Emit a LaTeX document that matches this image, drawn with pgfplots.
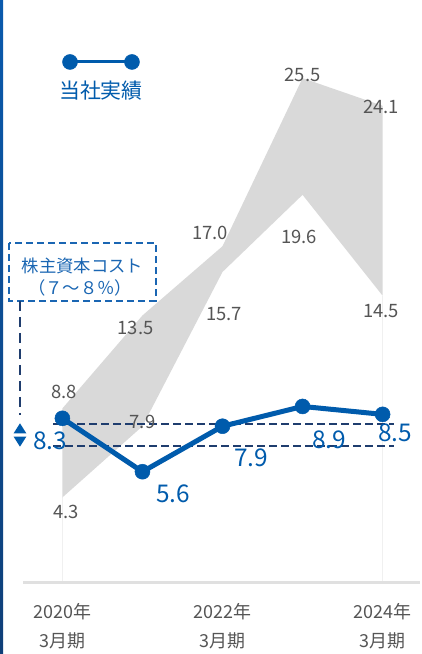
\documentclass[border=0pt]{standalone}
\usepackage{fontspec}
\setmainfont{Noto Sans CJK JP}
\usepackage{pgfplots}
\pgfplotsset{compat=1.18}
\definecolor{myblue}{HTML}{005BAC}
\definecolor{navy}{HTML}{1F3D6E}
\definecolor{bandgray}{HTML}{D9D9D9}
\definecolor{lblgray}{HTML}{555555}
\definecolor{boxblue}{HTML}{1A66B3}
\definecolor{basegray}{HTML}{E0E0E0}
\definecolor{faint}{HTML}{F0F0F0}
\definecolor{stripetop}{HTML}{0A5AAD}
\definecolor{stripebot}{HTML}{0F3F78}
\tikzset{
  glbl/.style={font=\fontsize{18.5}{20}\selectfont, text=lblgray, inner sep=0pt},
  blbl/.style={font=\fontsize{24.5}{26}\selectfont, text=myblue, inner sep=0pt},
  tlbl/.style={font=\fontsize{18}{20}\selectfont, text=lblgray, inner sep=0pt, anchor=base},
}

\begin{document}
\begin{tikzpicture}
\begin{axis}[
  scale only axis, width=420bp, height=654bp,
  xmin=-0.7795, xmax=4.4672, ymin=-3.615, ymax=29.449,
  axis lines=none, clip=false,
]
\fill[white] (rel axis cs:0,0) rectangle (rel axis cs:1,1);
\shade[top color=stripetop, bottom color=stripebot] (rel axis cs:0,0) rectangle (-0.742,29.449);

% faint verticals
\addplot[draw=faint, line width=1bp] coordinates {(0,0) (0,4.3)};
\addplot[draw=faint, line width=1bp] coordinates {(4,0) (4,14.5)};
% baseline
\addplot[draw=basegray, line width=3bp] coordinates {(-0.492,0) (4.4672,0)};

% range band
\addplot[fill=bandgray, draw=none] coordinates {(0,8.8) (1,13.5) (2,17.0) (3,25.5) (4,24.1) (4,14.5) (3,19.6) (2,15.7) (1,7.9) (0,4.3)} -- cycle;

% cost of equity dashed lines
\addplot[navy, line width=1.6bp, dash pattern=on 7.5bp off 4.5bp] coordinates {(-0.117,8.0) (4.142,8.0)};
\addplot[navy, line width=1.6bp, dash pattern=on 7.5bp off 4.5bp] coordinates {(-0.117,6.9) (4.142,6.9)};

% company results
\addplot[myblue, line width=5bp, mark=*, mark size=7.5bp, mark options={fill=myblue, draw=myblue, line width=0.5bp, solid}] coordinates {(0,8.3) (1,5.6) (2,7.9) (3,8.9) (4,8.5)};

% legend
\addplot[myblue, line width=3bp, mark=*, mark size=7.5bp, mark options={fill=myblue, draw=myblue, line width=0.5bp, solid}] coordinates {(0.095,26.315) (0.869,26.315)};
\node[font=\fontsize{21}{23}\selectfont, text=myblue, inner sep=0pt] at (0.482,24.85) {当社実績};

% box
\draw[boxblue, line width=2bp, dash pattern=on 7bp off 4bp] (-0.661,17.164) rectangle (1.163,14.232);
\node[font=\fontsize{17.4}{19}\selectfont, text=boxblue, inner sep=0pt] at (0.251,16.001) {株主資本コスト};
\node[font=\fontsize{17.4}{19}\selectfont, text=boxblue, inner sep=0pt] at (0.220,14.889) {（７～８％）};
\draw[navy, line width=2.2bp, dash pattern=on 10bp off 6bp] (-0.530,14.232) -- (-0.530,8.468);
\fill[myblue] (-0.530,8.049) -- (-0.609,7.543) -- (-0.451,7.543) -- cycle;
\fill[myblue] (-0.530,6.866) -- (-0.609,7.371) -- (-0.451,7.371) -- cycle;

% gray labels
\node[glbl] at (0.020,9.630) {8.8};
\node[glbl] at (0.913,12.892) {13.5};
\node[glbl] at (1.844,17.670) {17.0};
\node[glbl] at (2.999,25.657) {25.5};
\node[glbl] at (3.980,24.039) {24.1};
\node[glbl] at (0.045,3.564) {4.3};
\node[glbl] at (1.000,8.139) {7.9};
\node[glbl] at (2.019,13.574) {15.7};
\node[glbl] at (2.956,17.484) {19.6};
\node[glbl] at (3.980,13.726) {14.5};

% blue labels
\node[blbl] at (-0.155,7.154) {8.3};
\node[blbl] at (1.381,4.474) {5.6};
\node[blbl] at (2.356,6.320) {7.9};
\node[blbl] at (3.330,7.204) {8.9};
\node[blbl] at (4.155,7.584) {8.5};

% x labels
\node[tlbl] at (0,-1.795) {2020年};
\node[tlbl] at (0,-3.311) {3月期};
\node[tlbl] at (2,-1.795) {2022年};
\node[tlbl] at (2,-3.311) {3月期};
\node[tlbl] at (4,-1.795) {2024年};
\node[tlbl] at (4,-3.311) {3月期};
\end{axis}
\end{tikzpicture}
\end{document}
